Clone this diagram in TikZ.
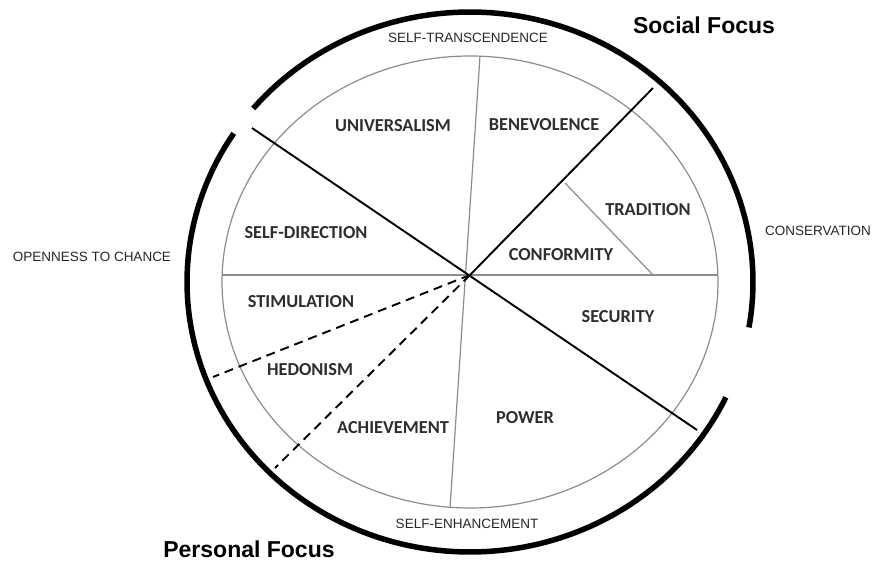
\documentclass[tikz,border=0pt]{standalone}
\usepackage{fontspec}
\setmainfont{Carlito}
\newfontfamily\arialfont{Liberation Sans}
\begin{document}
\begin{tikzpicture}[x=1pt,y=-1pt,
  region/.style={font=\bfseries\fontsize{18.3}{18.3}\selectfont, text=black!82, inner sep=0pt},
  axislabel/.style={font=\arialfont\fontsize{13.5}{13.5}\selectfont, text=black!85, inner sep=0pt},
  focus/.style={font=\arialfont\bfseries\fontsize{23}{23}\selectfont, inner sep=0pt},
  outerarc/.style={line width=5.5pt},
  divider/.style={line width=1.9pt},
  thin/.style={draw=black!45, line width=1.2pt}]
\useasboundingbox (0,0) rectangle (876,561);
% coordinates
\coordinate (c) at (470,275);
\coordinate (ul) at (252,128);
\coordinate (lr) at (697,430);
\coordinate (ur) at (653,88);
\coordinate (vt) at (480,56);
\coordinate (vb) at (450,508);
\coordinate (hl) at (222,275);
\coordinate (hr) at (718,275);
\coordinate (tc1) at (565,183);
\coordinate (tc2) at (653,275);
\coordinate (d1) at (213,377);
\coordinate (d2) at (275,468);
% inner ellipse and thin dividers
\draw[thin] (470,282) ellipse [x radius=248, y radius=226];
\draw[thin] (vt) -- (vb);
\draw[thin] (hl) -- (hr);
\draw[thin] (tc1) -- (tc2);
% outer arcs
\draw[outerarc] plot[domain=-140:9.7, samples=120] ({470+283*cos(\x)},{282+270*sin(\x)});
\draw[outerarc] plot[domain=25.3:213.4, samples=120] ({470+283*cos(\x)},{282+270*sin(\x)});
% black dividers
\draw[divider] (ul) -- (lr);
\draw[divider] (c) -- (ur);
\draw[divider, dash pattern=on 9pt off 6pt] (c) -- (d1);
\draw[divider, dash pattern=on 9pt off 6pt] (c) -- (d2);
% region labels
\node[region] (uni) at (393,126) {UNIVERSALISM};
\node[region] (ben) at (544,125) {BENEVOLENCE};
\node[region] (tra) at (648,210) {TRADITION};
\node[region] (con) at (561,255) {CONFORMITY};
\node[region] (sec) at (618,317) {SECURITY};
\node[region] (sd) at (306,233) {SELF-DIRECTION};
\node[region] (sti) at (301,302) {STIMULATION};
\node[region] (hed) at (310,370) {HEDONISM};
\node[region] (ach) at (393,428) {ACHIEVEMENT};
\node[region] (pow) at (525,418) {POWER};
% axis labels
\node[axislabel] (st) at (468,38) {SELF-TRANSCENDENCE};
\node[axislabel] (se) at (467,524) {SELF-ENHANCEMENT};
\node[axislabel] (cons) at (818,231) {CONSERVATION};
\node[axislabel] (open) at (92,257) {OPENNESS TO CHANCE};
% focus labels
\node[focus] (sf) at (704,25) {Social Focus};
\node[focus] (pf) at (249,549) {Personal Focus};
\end{tikzpicture}
\end{document}
